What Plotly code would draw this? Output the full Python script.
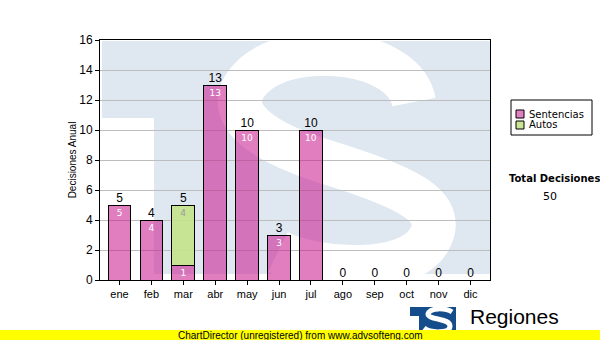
import plotly.graph_objects as go

months = ["ene", "feb", "mar", "abr", "may", "jun", "jul", "ago", "sep", "oct", "nov", "dic"]
sentencias = [5, 4, 1, 13, 10, 3, 10, 0, 0, 0, 0, 0]
autos = [0, 0, 4, 0, 0, 0, 0, 0, 0, 0, 0, 0]
totals = [s + a for s, a in zip(sentencias, autos)]
total_decisiones = sum(totals)
y_ticks = [0, 2, 4, 6, 8, 10, 12, 14, 16]

# plot area in pixels
L, R, T, B = 100, 490, 40, 280
W, H = R - L, B - T


def px(x):
    return (x - L) / W


def py(y):
    return (B - y) / H


def P(x, y):
    return f"{px(x):.4f},{py(y):.4f}"


fig = go.Figure()

fig.add_trace(go.Bar(
    name="Sentencias", x=months, y=sentencias,
    text=[str(v) if v else "" for v in sentencias],
    textposition="inside", insidetextanchor="end", textangle=0, constraintext="none",
    textfont=dict(color="white", size=9, family="DejaVu Sans"),
    marker=dict(color="rgba(200,20,140,0.55)", line=dict(color="black", width=1)),
    hoverinfo="skip",
))
fig.add_trace(go.Bar(
    name="Autos", x=months, y=autos,
    text=[str(v) if v else "" for v in autos],
    textposition="inside", insidetextanchor="end", textangle=0, constraintext="none",
    textfont=dict(color="#999999", size=9, family="DejaVu Sans"),
    marker=dict(color="rgba(196,226,138,0.9)", line=dict(color="black", width=1)),
    hoverinfo="skip",
))
fig.add_trace(go.Scatter(
    x=months, y=totals, mode="text", text=[str(v) for v in totals],
    textposition="top center", cliponaxis=False,
    textfont=dict(color="black", size=12, family="Liberation Sans"),
    hoverinfo="skip", showlegend=False,
))

shapes = []
# watermark
shapes.append(dict(type="rect", xref="paper", yref="paper", x0=px(102), x1=px(490), y0=py(41), y1=py(274),
                   fillcolor="#dfe8f1", line=dict(width=0), layer="below"))
shapes.append(dict(type="rect", xref="paper", yref="paper", x0=px(101), x1=px(154), y0=py(118), y1=py(275),
                   fillcolor="white", line=dict(width=0), layer="below"))
s_path = (f"M{P(414,102)} C{P(404,50)} {P(300,40)} {P(258,72)} "
          f"C{P(218,104)} {P(246,136)} {P(320,160)} "
          f"C{P(404,186)} {P(449,205)} {P(429,240)} "
          f"C{P(409,276)} {P(318,272)} {P(278,252)}")
shapes.append(dict(type="path", xref="paper", yref="paper", path=s_path,
                   line=dict(color="white", width=44), layer="below"))

# legend box
shapes.append(dict(type="rect", xref="paper", yref="paper", x0=px(511), x1=px(592), y0=py(100), y1=py(135),
                   fillcolor="white", line=dict(color="black", width=1)))
shapes.append(dict(type="rect", xref="paper", yref="paper", x0=px(516), x1=px(524), y0=py(110), y1=py(118),
                   fillcolor="#e080c0", line=dict(color="black", width=1)))
shapes.append(dict(type="rect", xref="paper", yref="paper", x0=px(516), x1=px(524), y0=py(121), y1=py(129),
                   fillcolor="#cce496", line=dict(color="black", width=1)))

# bottom logo
shapes.append(dict(type="rect", xref="paper", yref="paper", x0=px(410), x1=px(456), y0=py(307), y1=py(332),
                   fillcolor="#154c8c", line=dict(width=0)))
shapes.append(dict(type="rect", xref="paper", yref="paper", x0=px(410), x1=px(419), y0=py(316), y1=py(332),
                   fillcolor="white", line=dict(width=0)))
logo_s = (f"M{P(452,312)} C{P(446,308)} {P(430,307)} {P(428,314)} "
          f"C{P(428,320)} {P(450,318)} {P(450,326)} C{P(450,334)} {P(430,333)} {P(424,328)}")
shapes.append(dict(type="path", xref="paper", yref="paper", path=logo_s,
                   line=dict(color="white", width=5)))

# yellow footer band
shapes.append(dict(type="rect", xref="paper", yref="paper", x0=px(0), x1=px(600), y0=py(330), y1=py(341),
                   fillcolor="#ffff00", line=dict(width=0)))

annotations = [
    dict(text="Sentencias", x=px(527), y=py(114), xref="paper", yref="paper", xanchor="left", yanchor="middle",
         showarrow=False, font=dict(size=10, family="DejaVu Sans", color="black")),
    dict(text="Autos", x=px(527), y=py(125), xref="paper", yref="paper", xanchor="left", yanchor="middle",
         showarrow=False, font=dict(size=10, family="DejaVu Sans", color="black")),
    dict(text="<b>Total Decisiones</b>", x=px(554), y=py(178), xref="paper", yref="paper", xanchor="center",
         yanchor="middle", showarrow=False, font=dict(size=10, family="DejaVu Sans", color="black")),
    dict(text=str(total_decisiones), x=px(550), y=py(196), xref="paper", yref="paper", xanchor="center",
         yanchor="middle", showarrow=False, font=dict(size=11, family="DejaVu Sans", color="black")),
    dict(text="Regiones", x=px(468), y=py(316), xref="paper", yref="paper", xanchor="left",
         yanchor="middle", showarrow=False, font=dict(size=21, family="Liberation Sans", color="black")),
    dict(text="ChartDirector (unregistered) from www.advsofteng.com", x=px(300), y=py(335.5), xref="paper",
         yref="paper", xanchor="center", yanchor="middle", showarrow=False,
         font=dict(size=10, family="Liberation Sans", color="black")),
]

fig.update_layout(
    width=600, height=340,
    margin=dict(l=L, r=600 - R, t=T, b=340 - B),
    paper_bgcolor="white", plot_bgcolor="white",
    barmode="stack", bargap=0.29,
    showlegend=False,
    shapes=shapes, annotations=annotations,
    font=dict(family="Liberation Sans", size=11, color="black"),
    xaxis=dict(type="category", showline=True, linecolor="black", linewidth=1, mirror=True,
               ticks="outside", ticklen=4, tickcolor="black", showgrid=False,
               tickfont=dict(size=11, family="Liberation Sans")),
    yaxis=dict(range=[0, 16], tickvals=y_ticks, showline=True, linecolor="black", linewidth=1, mirror=True,
               ticks="outside", ticklen=4, tickcolor="black", showgrid=True, gridcolor="#bdbdbd",
               zeroline=False, tickfont=dict(size=12, family="Liberation Sans"),
               title=dict(text="Decisiones Anual", font=dict(size=10, family="Liberation Sans"), standoff=0)),
)

fig.write_html("out.html")
